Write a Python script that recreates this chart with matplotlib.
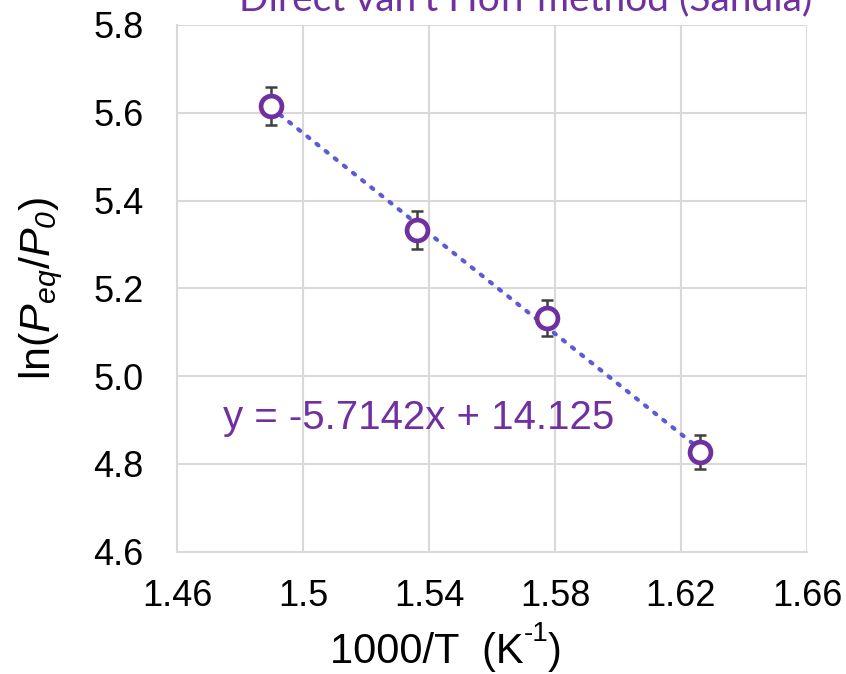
import matplotlib.pyplot as plt
import numpy as np

plt.rcParams['font.family'] = ['Liberation Sans', 'DejaVu Sans']
# mathtext is only used for the italic P terms of the y label
plt.rcParams['mathtext.fontset'] = 'custom'
plt.rcParams['mathtext.rm'] = 'Liberation Sans:italic'
plt.rcParams['mathtext.it'] = 'Liberation Sans:italic'

# van't Hoff data: inverse temperature vs log of equilibrium pressure
inv_T = [1.4898, 1.5363, 1.5776, 1.6260]
ln_p = [5.615, 5.332, 5.132, 4.827]
ln_p_err = [0.043, 0.043, 0.041, 0.038]

# linear fit shown on the chart
slope = -5.7142
intercept = 14.125

x_ticks = [1.46, 1.5, 1.54, 1.58, 1.62, 1.66]
x_tick_labels = ['1.46', '1.5', '1.54', '1.58', '1.62', '1.66']
y_ticks = [4.6, 4.8, 5.0, 5.2, 5.4, 5.6, 5.8]

purple = '#7030a0'

fig = plt.figure(figsize=(8.46, 6.74), dpi=100)
ax = fig.add_axes([0.2092, 0.1815, 0.7447, 0.7815])

# trendline across the data range
xs = np.array([inv_T[0], inv_T[-1]])
ax.plot(xs, slope * xs + intercept, linestyle=(0, (0.6, 2.2)), color='#5b5bd6',
        linewidth=3, dash_capstyle='round', zorder=2)

ax.errorbar(inv_T, ln_p, yerr=ln_p_err, fmt='none', ecolor='#404040',
            elinewidth=1.8, capsize=4.5, capthick=1.8, zorder=3)
ax.plot(inv_T, ln_p, 'o', markersize=15, markerfacecolor='white',
        markeredgecolor=purple, markeredgewidth=3.4, zorder=4)

ax.text(1.4746, 4.9034, 'y = -5.7142x + 14.125', color=purple, fontsize=29,
        va='center', ha='left')

ax.set_xlim(1.46, 1.66)
ax.set_ylim(4.6, 5.8)
ax.set_xticks(x_ticks)
ax.set_xticklabels(x_tick_labels)
ax.set_yticks(y_ticks)
ax.set_yticklabels([f'{v:.1f}' for v in y_ticks])
ax.tick_params(axis='both', length=0, labelsize=26, colors='black')
ax.tick_params(axis='x', pad=20)
ax.tick_params(axis='y', pad=24)

ax.grid(True, color='#d9d9d9', linewidth=1.5)
ax.set_axisbelow(True)
for side in ['top', 'right']:
    ax.spines[side].set_visible(False)
for side in ['left', 'bottom']:
    ax.spines[side].set_color('#d9d9d9')
    ax.spines[side].set_linewidth(1.5)

ax.set_ylabel(r'ln($P_{eq}$/$P_{0}$)', fontsize=31, labelpad=20)

# x label built in pieces so the exponent keeps a plain hyphen
xl_main = fig.text(0.39, 0.017, '1000/T  (K', fontsize=30, ha='left',
                   va='baseline')
xl_sup = ax.annotate('-1', xy=(1, 0.62), xycoords=xl_main, fontsize=20,
                     ha='left', va='bottom', annotation_clip=False)
ax.annotate(')', xy=(1, 0), xycoords=(xl_sup, xl_main), fontsize=30,
            ha='left', va='bottom', annotation_clip=False)

# chart title, clipped at the top edge of the figure
fig.text(0.96, 0.985, "Direct van't Hoff method (Sandia)", color=purple,
         fontsize=28, family=['Lato', 'DejaVu Sans'], ha='right', va='baseline')

fig.savefig('out.png', dpi=100)
